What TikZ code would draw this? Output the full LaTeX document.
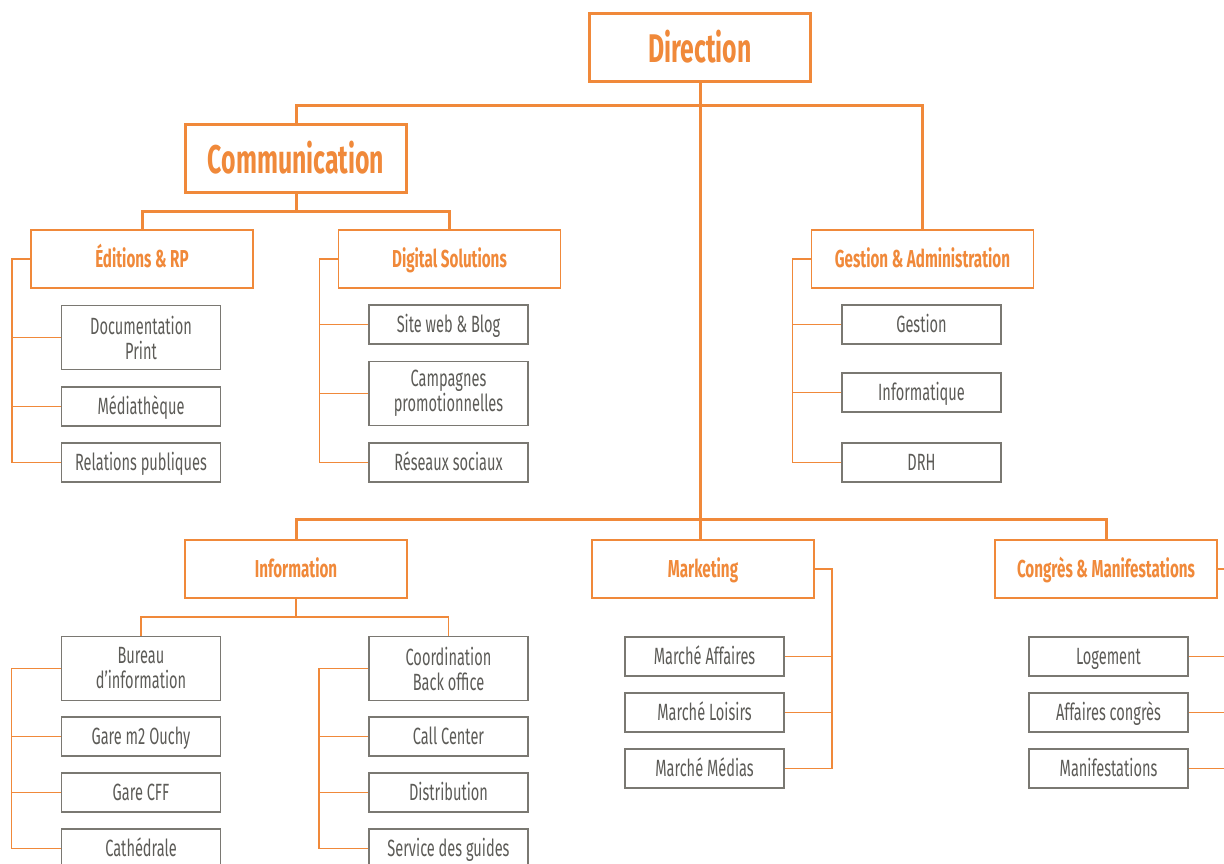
\documentclass[tikz,border=0pt]{standalone}
\usepackage{fontspec}
\setmainfont[FakeStretch=0.62]{Fira Sans}
\usetikzlibrary{positioning}
\definecolor{orga}{RGB}{240,137,58}
\definecolor{grisbord}{RGB}{122,120,114}
\definecolor{gristexte}{RGB}{92,91,87}
\tikzset{
    topbox/.style = {rectangle, draw=orga, line width=3pt, minimum width=221pt, minimum height=68pt, inner sep=0pt, text=orga, font=\fontsize{40}{40}\selectfont\bfseries},
    depbox/.style = {rectangle, draw=orga, line width=1.8pt, minimum width=222pt, minimum height=58pt, inner sep=0pt, text height=19pt, text depth=3pt, text=orga, font=\fontsize{24.5}{24.5}\selectfont\bfseries},
    itembase/.style = {rectangle, draw=grisbord, line width=1.8pt, minimum width=159pt, inner sep=0pt, text=gristexte, align=center, font=\fontsize{23.5}{25}\selectfont},
    itembox/.style = {itembase, minimum height=39pt, text height=18pt, text depth=3pt},
    itembig/.style = {itembase, minimum height=64pt},
    lien/.style = {draw=orga, line width=3pt},
    branche/.style = {draw=orga, line width=1.4pt},
}
\begin{document}
\begin{tikzpicture}[x=1pt,y=-1pt]
\useasboundingbox (0,0) rectangle (1224,863);
%
\node[topbox] at (700,47) (dir) {Direction};
\node[topbox] at (296,158) (com) {Communication};
\node[depbox] at (142,259) (edi) {Éditions \& RP};
\node[depbox] at (449.5,259) (dig) {Digital Solutions};
\node[depbox] at (922.5,259) (ges) {Gestion \& Administration};
\node[depbox] at (296,569) (inf) {Information};
\node[depbox] at (703,569) (mkt) {Marketing};
\node[depbox] at (1106,569) (con) {Congrès \& Manifestations};
%
\node[itembig] at (141,337.5) (doc) {Documentation\\Print};
\node[itembox] at (141,406.5) (med) {Médiathèque};
\node[itembox] at (141,462.5) (rel) {Relations publiques};
\node[itembox] at (448.5,324.5) (sit) {Site web \& Blog};
\node[itembig] at (448.5,393.5) (cam) {Campagnes\\promotionnelles};
\node[itembox] at (448.5,462.5) (res) {Réseaux sociaux};
\node[itembox] at (921.5,324.5) (gst) {Gestion};
\node[itembox] at (921.5,392.5) (info) {Informatique};
\node[itembox] at (921.5,462.5) (drh) {DRH};
%
\node[itembig] at (141,668.5) (bur) {Bureau\\d’information};
\node[itembox] at (141,736.5) (gm2) {Gare m2 Ouchy};
\node[itembox] at (141,792.5) (cff) {Gare CFF};
\node[itembox] at (141,848.5) (cat) {Cathédrale};
\node[itembig] at (448.5,668.5) (coo) {Coordination\\Back office};
\node[itembox] at (448.5,736.5) (cal) {Call Center};
\node[itembox] at (448.5,792.5) (dis) {Distribution};
\node[itembox] at (448.5,848.5) (gui) {Service des guides};
\node[itembox] at (704.5,656.5) (maf) {Marché Affaires};
\node[itembox] at (704.5,712.5) (mlo) {Marché Loisirs};
\node[itembox] at (704.5,768.5) (mme) {Marché Médias};
\node[itembox] at (1108.5,656.5) (log) {Logement};
\node[itembox] at (1108.5,712.5) (afc) {Affaires congrès};
\node[itembox] at (1108.5,768.5) (man) {Manifestations};
%
\coordinate (bas) at (700,519);
\draw[lien] (dir.south) -- ++(0,23) -| (com.north);
\draw[lien] (dir.south) -- ++(0,23) -| (ges.north);
\draw[lien] (dir.south) -- (bas);
\draw[lien] (bas) -| (inf.north);
\draw[lien] (bas) -| (con.north);
\draw[lien] (bas) -- (bas |- mkt.north);
\draw[lien] (com.south) -- ++(0,18) -| (edi.north);
\draw[lien] (com.south) -- ++(0,18) -| (dig.north);
\draw[branche] (inf.south) -- ++(0,18) -| (bur.north);
\draw[branche] (inf.south) -- ++(0,18) -| (coo.north);
%
\draw[branche] (edi.west) -- ++(-18,0) coordinate (e0) |- (rel.west);
\draw[branche] (e0 |- doc.west) -- (doc.west);
\draw[branche] (e0 |- med.west) -- (med.west);
\draw[branche] (dig.west) -- ++(-18,0) coordinate (d0) |- (res.west);
\draw[branche] (d0 |- sit.west) -- (sit.west);
\draw[branche] (d0 |- cam.west) -- (cam.west);
\draw[branche] (ges.west) -- ++(-18,0) coordinate (g0) |- (drh.west);
\draw[branche] (g0 |- gst.west) -- (gst.west);
\draw[branche] (g0 |- info.west) -- (info.west);
%
\draw[branche] (bur.west) -- ++(-49,0) coordinate (b0) |- (cat.west);
\draw[branche] (b0 |- gm2.west) -- (gm2.west);
\draw[branche] (b0 |- cff.west) -- (cff.west);
\draw[branche] (coo.west) -- ++(-49,0) coordinate (c0) |- (gui.west);
\draw[branche] (c0 |- cal.west) -- (cal.west);
\draw[branche] (c0 |- dis.west) -- (dis.west);
\draw[branche] (mkt.east) -- ++(17,0) coordinate (m0) |- (mme.east);
\draw[branche] (m0 |- maf.east) -- (maf.east);
\draw[branche] (m0 |- mlo.east) -- (mlo.east);
\draw[branche] (con.east) -- ++(24,0) coordinate (k0) |- (man.east);
\draw[branche] (k0 |- log.east) -- (log.east);
\draw[branche] (k0 |- afc.east) -- (afc.east);
\end{tikzpicture}
\end{document}
